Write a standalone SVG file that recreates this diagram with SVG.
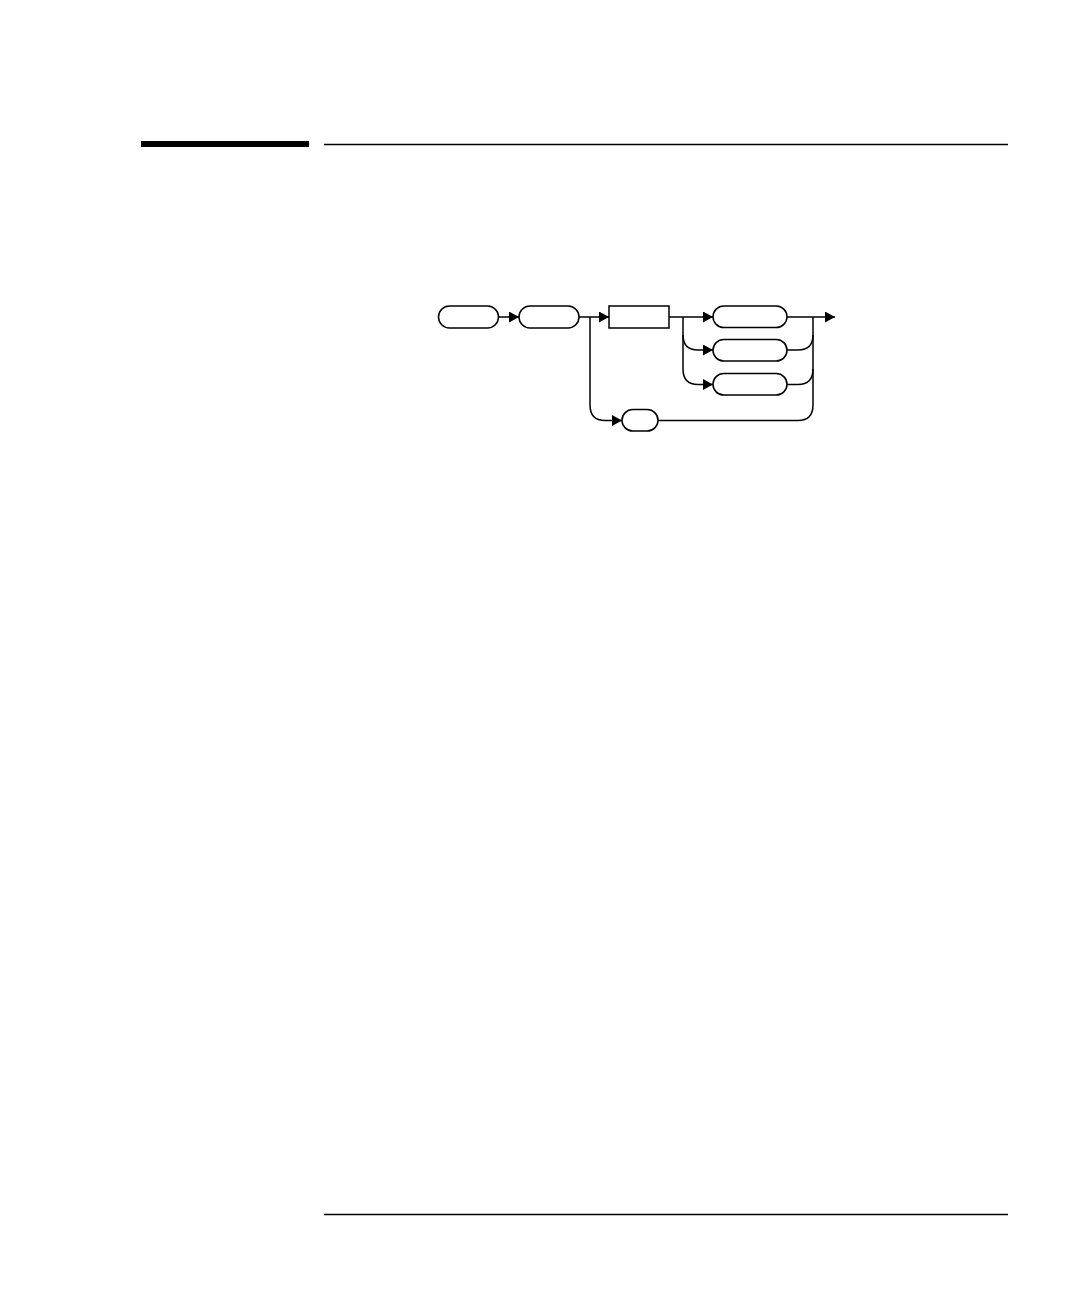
<svg xmlns="http://www.w3.org/2000/svg" width="1080" height="1296" viewBox="0 0 1080 1296">
<defs>
<style>
.node{fill:#fff;stroke:#000;stroke-width:1.5}
.conn{fill:none;stroke:#000;stroke-width:1.5}
.rule{stroke:#000;fill:none}
</style>
<marker id="ah" viewBox="0 0 10 11" refX="10" refY="5.5" markerWidth="10" markerHeight="11" markerUnits="userSpaceOnUse" orient="auto">
<path d="M0,0 L10,5.5 L0,11 Z" fill="#000"/>
</marker>
</defs>
<rect width="1080" height="1296" fill="#fff"/>
<g id="header">
<rect x="141" y="141" width="168" height="6" fill="#000"/>
<line class="rule" x1="324" y1="144.5" x2="1008" y2="144.5" stroke-width="1.3"/>
<line class="rule" x1="324" y1="1214.5" x2="1008" y2="1214.5" stroke-width="1.3"/>
</g>
<g id="connectors">
<line class="conn" x1="498" y1="317" x2="519" y2="317" stroke-width="2.2" marker-end="url(#ah)"/>
<line class="conn" x1="579" y1="317" x2="609" y2="317" marker-end="url(#ah)"/>
<path class="conn" d="M590,317 V405 Q590,420.5 605,420.5 H622" marker-end="url(#ah)"/>
<line class="conn" x1="669" y1="317" x2="713" y2="317" marker-end="url(#ah)"/>
<path class="conn" d="M683,317 V335 Q683,350 698,350 H713" marker-end="url(#ah)"/>
<path class="conn" d="M683,335 V369 Q683,384.5 698,384.5 H713" marker-end="url(#ah)"/>
<line class="conn" x1="787" y1="317" x2="835" y2="317" marker-end="url(#ah)"/>
<path class="conn" d="M787,350 H798 Q813,350 813,335 V317"/>
<path class="conn" d="M787,384.5 H798 Q813,384.5 813,369 V335"/>
<path class="conn" d="M658,420.5 H798 Q813,420.5 813,405 V369"/>
</g>
<g id="n1"><rect class="node" x="438.5" y="306" width="60" height="22" rx="11"/></g>
<g id="n2"><rect class="node" x="519" y="306" width="60" height="22" rx="11"/></g>
<g id="n3"><rect class="node" x="609" y="306" width="60" height="22"/></g>
<g id="n4"><rect class="node" x="713" y="306" width="74" height="21.5" rx="10.75"/></g>
<g id="n5"><rect class="node" x="713" y="339.5" width="74" height="21.5" rx="10.75"/></g>
<g id="n6"><rect class="node" x="713" y="373.5" width="74" height="21.5" rx="10.75"/></g>
<g id="n7"><rect class="node" x="622" y="409.5" width="36" height="21.5" rx="10.75"/></g>
</svg>
